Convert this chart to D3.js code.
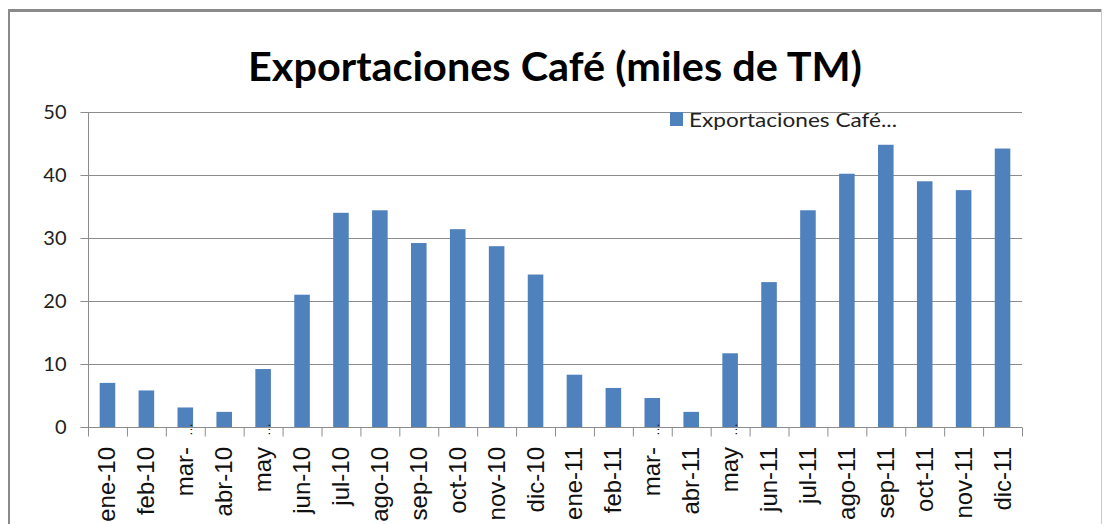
<!doctype html>
<html>
<head>
  <meta charset="utf-8">
  <script src="https://d3js.org/d3.v7.min.js"></script>
  <style>
    body { margin: 0; background: #fff; }
  </style>
</head>
<body>
  <div id="viz"></div>
  <script>
    // data
    var months = ["ene-10", "feb-10", "mar-…", "abr-10", "may…", "jun-10", "jul-10", "ago-10",
                  "sep-10", "oct-10", "nov-10", "dic-10", "ene-11", "feb-11", "mar-…", "abr-11",
                  "may…", "jun-11", "jul-11", "ago-11", "sep-11", "oct-11", "nov-11", "dic-11"];
    var exportaciones = [7.0, 5.8, 3.1, 2.4, 9.2, 21.0, 34.0, 34.4, 29.2, 31.4, 28.7, 24.2,
                         8.3, 6.2, 4.6, 2.4, 11.7, 23.0, 34.4, 40.2, 44.8, 39.0, 37.6, 44.2];
    var yTicks = [0, 10, 20, 30, 40, 50];
    var seriesName = "Exportaciones Café...";
    var title = "Exportaciones Café (miles de TM)";

    var W = 1103, H = 524;
    var margin = {top: 112, right: 81, bottom: 97, left: 88},
        width = W - margin.left - margin.right,
        height = H - margin.top - margin.bottom;

    var svg = d3.select("#viz").append("svg")
        .attr("width", W).attr("height", H);

    // outer chart frame
    svg.append("line").attr("x1", 8).attr("x2", 1102).attr("y1", 10.5).attr("y2", 10.5)
       .style("stroke", "#8a8a8a").style("stroke-width", 3);
    svg.append("line").attr("x1", 9).attr("x2", 9).attr("y1", 9).attr("y2", H)
       .style("stroke", "#8a8a8a").style("stroke-width", 2);
    svg.append("line").attr("x1", 1101.5).attr("x2", 1101.5).attr("y1", 9).attr("y2", H)
       .style("stroke", "#c8c8c8").style("stroke-width", 1);

    // title
    svg.append("text")
       .attr("x", 555).attr("y", 81)
       .attr("text-anchor", "middle")
       .attr("textLength", 614).attr("lengthAdjust", "spacingAndGlyphs")
       .style("font-family", "Lato, 'Open Sans', sans-serif")
       .style("font-weight", "bold").style("font-size", "40px")
       .text(title);

    var g = svg.append("g")
        .attr("transform", "translate(" + margin.left + "," + margin.top + ")");

    var x = d3.scaleBand().domain(d3.range(months.length)).range([0, width]).paddingInner(0.6).paddingOuter(0.3);
    var y = d3.scaleLinear().domain([0, 50]).range([height, 0]);

    // gridlines
    g.selectAll(".grid").data(yTicks.slice(1)).enter().append("line")
       .attr("x1", 0).attr("x2", width)
       .attr("y1", function(d) { return Math.round(y(d)) + 0.5; })
       .attr("y2", function(d) { return Math.round(y(d)) + 0.5; })
       .style("stroke", "#8c8c8c").style("stroke-width", 1);

    // y axis
    var yAxis = g.append("g").attr("transform", "translate(0.5,0)")
       .call(d3.axisLeft(y).tickValues(yTicks).tickSize(8).tickPadding(14));
    yAxis.select(".domain").style("stroke", "#8c8c8c").attr("d", "M0," + (height + 0.5) + "V0.5");
    yAxis.selectAll(".tick line").style("stroke", "#8c8c8c");
    yAxis.selectAll("text").style("font-family", "Lato, 'Open Sans', sans-serif")
       .style("font-size", "20px").style("fill", "#222");

    // bars
    g.selectAll(".bar").data(exportaciones).enter().append("rect")
       .attr("class", "bar")
       .attr("x", function(d, i) { return x(i); })
       .attr("width", x.bandwidth())
       .attr("y", function(d) { return y(d); })
       .attr("height", function(d) { return height - y(d); })
       .style("fill", "#4f81bd");

    // x axis with ticks at category boundaries
    var xb = d3.scaleLinear().domain([0, months.length]).range([0, width]);
    var xAxis = g.append("g").attr("transform", "translate(0," + (height + 0.5) + ")")
       .call(d3.axisBottom(xb).tickValues(d3.range(months.length + 1)).tickSize(9).tickFormat(""));
    xAxis.select(".domain").style("stroke", "#8c8c8c").attr("d", "M0,0H" + width);
    xAxis.selectAll(".tick line").style("stroke", "#8c8c8c");

    // rotated month labels
    var labels = g.selectAll(".mlabel").data(months).enter().append("g")
       .attr("transform", function(d, i) {
         return "translate(" + (x(i) + x.bandwidth() / 2 + 8) + "," + (height + 20) + ") rotate(-90)";
       });
    labels.append("text")
       .attr("text-anchor", "end")
       .style("font-family", "'Liberation Sans', Arial, sans-serif")
       .style("font-size", "24px").style("fill", "#111")
       .text(function(d) { return d.replace("…", ""); });
    labels.filter(function(d) { return d.indexOf("…") >= 0; }).append("text")
       .attr("x", 11).attr("y", -1)
       .attr("text-anchor", "start")
       .style("font-family", "'Liberation Sans', Arial, sans-serif")
       .style("font-size", "13px").style("fill", "#111")
       .text("…");

    // legend
    var leg = svg.append("g").attr("transform", "translate(670,112)");
    leg.append("rect").attr("width", 13).attr("height", 14).style("fill", "#4f81bd");
    leg.append("text").attr("x", 19).attr("y", 15)
       .attr("textLength", 208).attr("lengthAdjust", "spacingAndGlyphs")
       .style("font-family", "Lato, 'Open Sans', sans-serif")
       .style("font-size", "20px").style("fill", "#222")
       .text(seriesName);
  </script>
</body>
</html>
